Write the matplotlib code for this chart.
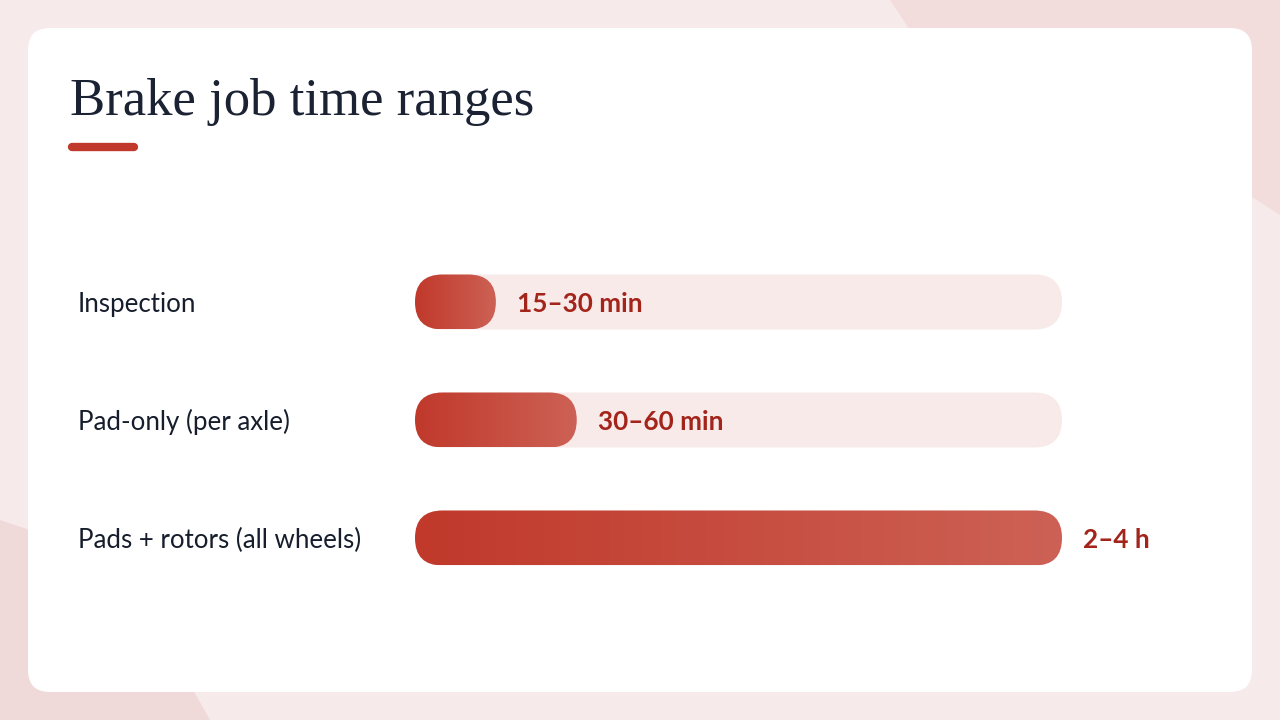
import numpy as np
import matplotlib.pyplot as plt
from matplotlib.patches import FancyBboxPatch, Polygon
from matplotlib.colors import LinearSegmentedColormap

# data
tasks = ['Inspection', 'Pad-only (per axle)', 'Pads + rotors (all wheels)']
upper_minutes = [30, 60, 240]
range_labels = ['15–30 min', '30–60 min', '2–4 h']
scale_max = 240

W, H = 1280, 720
fig = plt.figure(figsize=(12.8, 7.2), dpi=100)

# background + card, in pixel coordinates
bg = fig.add_axes([0, 0, 1, 1])
bg.set_xlim(0, W)
bg.set_ylim(H, 0)
bg.axis('off')
bg.add_patch(plt.Rectangle((0, 0), W, H, color='#f7eaea', zorder=0))
bg.add_patch(Polygon([(890, 0), (W, 0), (W, 215), (1180, 150), (930, 60)],
                     closed=True, color='#f2dcdc', lw=0, zorder=1))
bg.add_patch(Polygon([(0, 520), (120, 560), (210, 720), (0, 720)],
                     closed=True, color='#f0d9d9', lw=0, zorder=1))
bg.add_patch(FancyBboxPatch((28, 28), 1224, 664,
                            boxstyle='round,pad=0,rounding_size=22',
                            fc='white', ec='none', zorder=2))

bg.text(70, 115, 'Brake job time ranges', fontsize=38, family='Liberation Serif',
        color='#1a2233', va='baseline', ha='left', zorder=3)
bg.plot([72, 134], [147, 147], color='#c0392b', lw=6, solid_capstyle='round', zorder=3)

# bar area
left_px, right_px = 415, 1062
top_px, bot_px = 240, 600
ax = fig.add_axes([left_px / W, (H - bot_px) / H, (right_px - left_px) / W, (bot_px - top_px) / H])
ax.axis('off')
ax.patch.set_alpha(0)

row_px = 118
bar_h = 55 / row_px
ylim = (2 + (bot_px - 538) / row_px, -(302 - top_px) / row_px)
xunit_per_px = scale_max / (right_px - left_px)
yunit_per_px = 1 / row_px
aspect = yunit_per_px / xunit_per_px
r = 27.5 * xunit_per_px

cmap = LinearSegmentedColormap.from_list('bar', ['#c0392b', '#cd6155'])
grad = np.linspace(0, 1, 256).reshape(1, -1)

for i, (task, v, lab) in enumerate(zip(tasks, upper_minutes, range_labels)):
    y0 = i - bar_h / 2
    track = FancyBboxPatch((0, y0), scale_max, bar_h,
                           boxstyle=f'round,pad=0,rounding_size={r}',
                           mutation_aspect=aspect, fc='#f9eaea', ec='none', zorder=1)
    ax.add_patch(track)
    bar = FancyBboxPatch((0, y0), v, bar_h,
                         boxstyle=f'round,pad=0,rounding_size={r}',
                         mutation_aspect=aspect, fc='none', ec='none', zorder=2)
    ax.add_patch(bar)
    im = ax.imshow(grad, extent=(0, v, y0 + bar_h, y0), aspect='auto', cmap=cmap, zorder=2)
    im.set_clip_path(bar)
    ax.annotate(lab, xy=(v, i), xytext=(21, -10), textcoords='offset pixels',
                va='baseline', ha='left', fontsize=18.8, fontweight='bold',
                family='Lato', color='#a3241a', zorder=3)
    bg.text(78, 302 + i * row_px + 10, task, fontsize=18.6, family='Lato',
            color='#161d2c', va='baseline', ha='left', zorder=3)

ax.set_xlim(0, scale_max)
ax.set_ylim(*ylim)

fig.savefig('out.png', dpi=100)
